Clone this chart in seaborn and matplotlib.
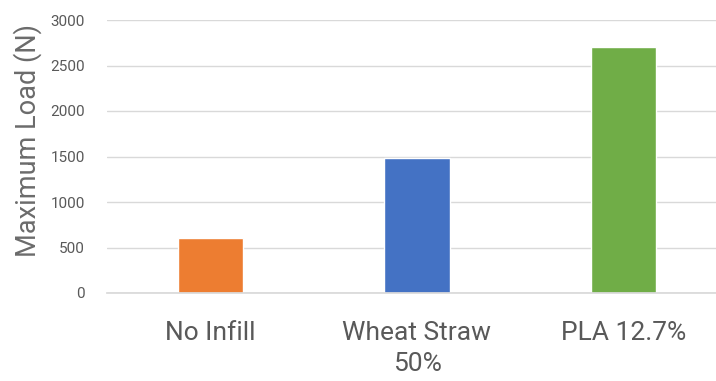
import matplotlib
matplotlib.use("Agg")
import matplotlib.pyplot as plt
import seaborn as sns
import pandas as pd

categories = ["No Infill", "Wheat Straw\n50%", "PLA 12.7%"]
max_load = [605, 1480, 2700]
colors = ["#ED7D31", "#4472C4", "#70AD47"]
yticks = [0, 500, 1000, 1500, 2000, 2500, 3000]

sns.set_theme(style="white")
plt.rcParams['font.family'] = ['Roboto', 'DejaVu Sans']

df = pd.DataFrame({"cat": categories, "load": max_load})

fig = plt.figure(figsize=(7.16, 3.81), dpi=100)
ax = fig.add_axes([107/716, (381-293)/381, 620/716, 273/381])
sns.barplot(data=df, x="cat", y="load", hue="cat", palette=colors,
            width=0.315, legend=False, ax=ax, saturation=1)

ax.set_ylim(0, 3000)
ax.set_xlim(-0.5, 2.5)
ax.set_yticks(yticks)
ax.set_yticklabels([str(v) for v in yticks], fontsize=11, color="#595959")
ax.yaxis.grid(True, color="#D9D9D9", linewidth=1)
ax.set_axisbelow(True)
for s in ["top", "right", "left"]:
    ax.spines[s].set_visible(False)
ax.spines["bottom"].set_color("#D9D9D9")
ax.tick_params(axis="y", length=0, pad=16)
ax.tick_params(axis="x", length=0, pad=20)
for lbl in ax.get_xticklabels():
    lbl.set_fontsize(19)
    lbl.set_color("#595959")
    lbl.set_linespacing(1.4)
ax.set_xlabel("")
ax.set_ylabel("Maximum Load (N)", fontsize=19.5, color="#6b6b6b")
ax.yaxis.set_label_coords(-0.105, 0.56)

fig.savefig("out.png", dpi=100)
